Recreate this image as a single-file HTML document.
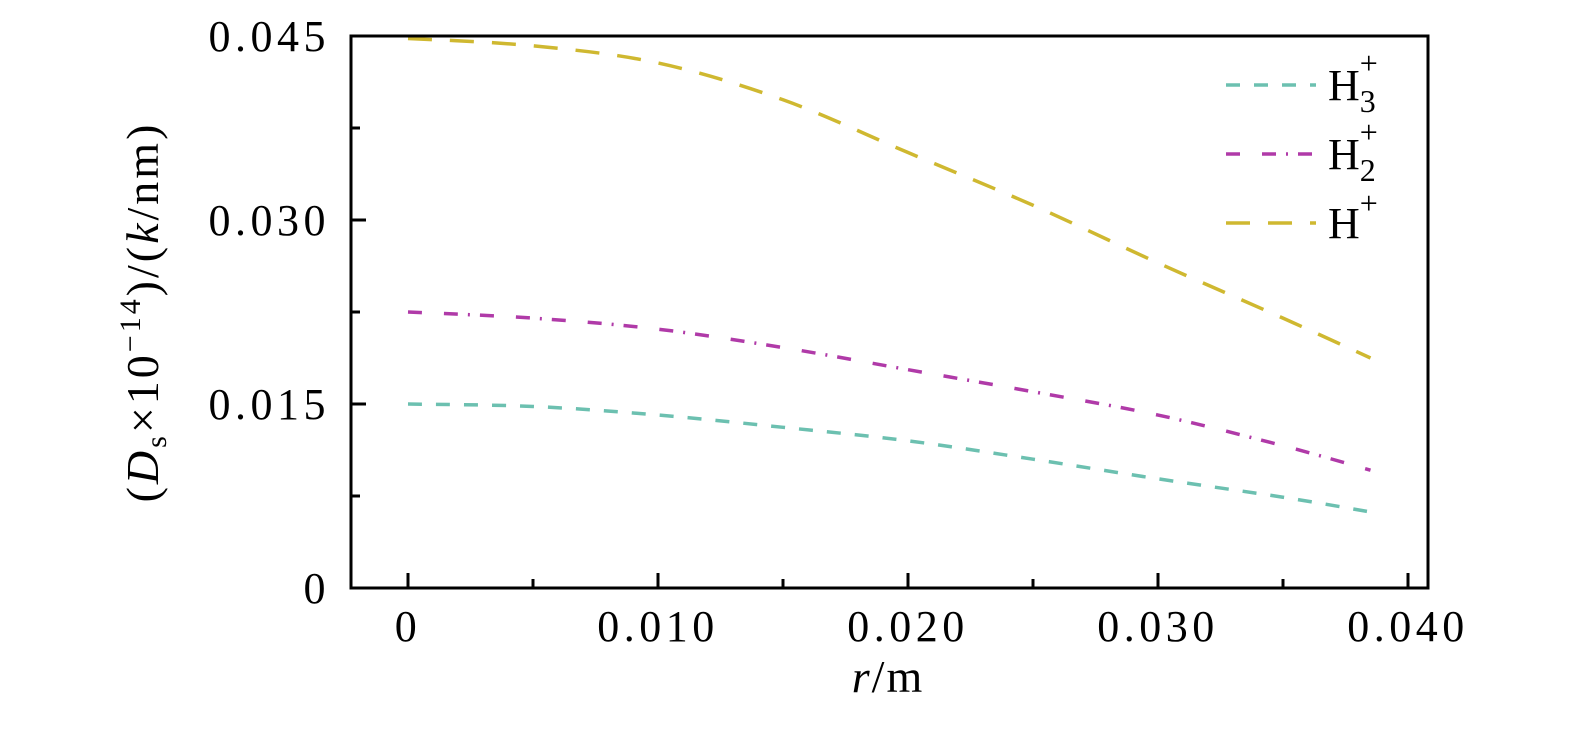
<!DOCTYPE html>
<html><head><meta charset="utf-8"><style>
html,body{margin:0;padding:0;background:#fff;}
svg{display:block;font-family:"Liberation Serif",serif;}
</style></head><body>
<svg id="chart" width="1575" height="738" viewBox="0 0 1575 738">
<g id="plot"></g>
<rect x="351" y="36" width="1077" height="552" fill="none" stroke="#000" stroke-width="3"/>
<text x="888" y="692" font-size="46" letter-spacing="2" text-anchor="middle"><tspan font-style="italic">r</tspan>/m</text>
<text transform="translate(158,312) rotate(-90)" font-size="46" letter-spacing="3" text-anchor="middle">(<tspan font-style="italic">D</tspan><tspan font-size="30" dy="8">s</tspan><tspan dy="-8">×10</tspan><tspan font-size="30" dy="-18">−14</tspan><tspan dy="18">)/(</tspan><tspan font-style="italic">k</tspan>/nm)</text>
<g>
<line x1="1226" y1="85" x2="1316" y2="85" stroke="#6cc0b0" stroke-width="3.5" stroke-dasharray="14,14"/>
<text x="1328" y="100" font-size="44">H<tspan font-size="32" dy="12">3</tspan><tspan font-size="32" dx="-16" dy="-38">+</tspan></text>
<line x1="1226" y1="154" x2="1316" y2="154" stroke="#b03aa8" stroke-width="3.5" stroke-dasharray="14,22,14,10,2,10"/>
<text x="1328" y="169" font-size="44">H<tspan font-size="32" dy="12">2</tspan><tspan font-size="32" dx="-16" dy="-38">+</tspan></text>
<line x1="1226" y1="223" x2="1316" y2="223" stroke="#cfb830" stroke-width="3.5" stroke-dasharray="24,18"/>
<text x="1328" y="238" font-size="44">H<tspan font-size="32" dy="-24">+</tspan></text>
</g>
</svg>
<script>
const xs=[0,0.005,0.01,0.015,0.02,0.025,0.03,0.035,0.0385];
const h1=[0.0448,0.0442,0.0428,0.0398,0.0355,0.0312,0.0265,0.022,0.01875];
const h2=[0.0225,0.022,0.0211,0.0196,0.0178,0.016,0.0141,0.0116,0.0096];
const h3=[0.015,0.0148,0.0141,0.0131,0.012,0.0105,0.0089,0.0074,0.0062];
const xTicks=[0,0.01,0.02,0.03,0.04];
const xTickLabels=["0","0.010","0.020","0.030","0.040"];
const yTicks=[0,0.015,0.03,0.045];
const yTickLabels=["0","0.015","0.030","0.045"];
const X=v=>408+v*25000, Y=v=>588-v*184/0.015;
const NS="http://www.w3.org/2000/svg", g=document.getElementById('plot');
function mk(t,a){const e=document.createElementNS(NS,t);for(const k in a)e.setAttribute(k,a[k]);g.appendChild(e);return e;}
for(let v=0;v<=0.0401;v+=0.005){const major=Math.abs(v/0.01-Math.round(v/0.01))<1e-6;
 const e=mk('line',{x1:X(v),x2:X(v),y1:588,y2:588-(major?15:9),stroke:'#000','stroke-width':3});
 
 }
xTicks.forEach((v,i)=>{const t=mk('text',{x:X(v),y:641,'font-size':44,'letter-spacing':4.5,'text-anchor':'middle'});t.textContent=xTickLabels[i];
 
 });
for(let k=0;k<=6;k++){const v=k*0.0075;const major=k%2==0;
 const e=mk('line',{x1:351,x2:351+(major?15:9),y1:Y(v),y2:Y(v),stroke:'#000','stroke-width':3});
 
 }
yTicks.forEach((v,i)=>{const t=mk('text',{x:330,y:Y(v)+15,'font-size':44,'letter-spacing':4.5,'text-anchor':'end'});t.textContent=yTickLabels[i];
 
 });
function path(arr){const P=arr.map((v,i)=>[X(xs[i]),Y(v)]);let d='M'+P[0][0]+','+P[0][1];
 for(let i=0;i<P.length-1;i++){const p0=P[Math.max(0,i-1)],p1=P[i],p2=P[i+1],p3=P[Math.min(P.length-1,i+2)];
  const c1=[p1[0]+(p2[0]-p0[0])/6,p1[1]+(p2[1]-p0[1])/6],c2=[p2[0]-(p3[0]-p1[0])/6,p2[1]-(p3[1]-p1[1])/6];
  d+='C'+c1+' '+c2+' '+p2;}return d;}
function series(arr,col,dash,name){const p=mk('path',{d:path(arr),fill:'none',stroke:col,'stroke-width':3.5,'stroke-dasharray':dash,'stroke-linejoin':'round'});
 
 }
series(h1,'#cfb830','24,18','series-h1');
series(h2,'#b03aa8','14,22,14,10,2,10','series-h2');
series(h3,'#6cc0b0','14,14','series-h3');
</script>
</body></html>
